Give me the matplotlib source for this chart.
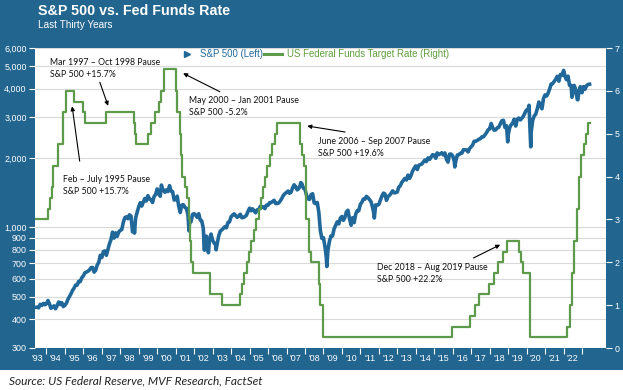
import numpy as np
import pandas as pd
import matplotlib
matplotlib.use('Agg')
import matplotlib.pyplot as plt
from matplotlib.lines import Line2D
from matplotlib.ticker import FixedLocator, FuncFormatter, NullLocator

plt.rcParams['font.family'] = ['Liberation Sans', 'DejaVu Sans']

# S&P 500 month-end levels, May 1993 - May 2023
sp_1990s = [450, 451, 448, 464, 459, 468, 462, 466,
            482, 467, 446, 451, 457, 444, 458, 475, 463, 472, 454, 459,
            470, 487, 501, 515, 533, 545, 562, 562, 584, 582, 605, 616,
            636, 640, 646, 654, 669, 671, 640, 652, 687, 705, 757, 741,
            786, 791, 757, 801, 848, 885, 954, 899, 947, 915, 955, 970,
            980, 1049, 1102, 1112, 1091, 1134, 1121, 957, 1017, 1099, 1164, 1229,
            1280, 1238, 1286, 1335, 1302, 1373, 1329, 1320, 1283, 1363, 1389, 1469]
sp_2000s = [1394, 1366, 1499, 1452, 1421, 1455, 1431, 1518, 1437, 1429, 1315, 1320,
            1366, 1240, 1160, 1249, 1256, 1224, 1211, 1134, 1041, 1060, 1139, 1148,
            1130, 1107, 1147, 1077, 1067, 990, 912, 916, 815, 886, 936, 880,
            856, 841, 848, 917, 964, 975, 990, 1008, 996, 1051, 1058, 1112,
            1131, 1145, 1126, 1107, 1121, 1141, 1102, 1104, 1115, 1130, 1174, 1212,
            1181, 1204, 1181, 1157, 1192, 1191, 1234, 1220, 1229, 1207, 1249, 1248,
            1280, 1281, 1295, 1311, 1270, 1270, 1277, 1304, 1336, 1378, 1401, 1418,
            1438, 1407, 1421, 1482, 1531, 1503, 1455, 1474, 1527, 1549, 1481, 1468,
            1379, 1331, 1323, 1386, 1400, 1280, 1267, 1283, 1166, 969, 896, 903,
            826, 735, 798, 873, 919, 919, 987, 1021, 1057, 1036, 1096, 1115]
sp_2010s = [1074, 1104, 1169, 1187, 1089, 1031, 1102, 1049, 1141, 1183, 1181, 1258,
            1286, 1327, 1326, 1364, 1345, 1321, 1292, 1219, 1131, 1253, 1247, 1258,
            1312, 1366, 1408, 1398, 1310, 1362, 1379, 1407, 1441, 1412, 1416, 1426,
            1498, 1515, 1569, 1598, 1631, 1606, 1686, 1633, 1682, 1757, 1806, 1848,
            1783, 1859, 1872, 1884, 1924, 1960, 1931, 2003, 1972, 2018, 2068, 2059,
            1995, 2105, 2068, 2086, 2107, 2063, 2104, 1972, 1920, 2079, 2080, 2044,
            1940, 1932, 2060, 2065, 2097, 2099, 2174, 2171, 2168, 2126, 2199, 2239,
            2279, 2364, 2363, 2384, 2412, 2423, 2470, 2472, 2519, 2575, 2648, 2674,
            2824, 2714, 2641, 2648, 2705, 2718, 2816, 2902, 2914, 2712, 2760, 2507,
            2704, 2784, 2834, 2946, 2752, 2942, 2980, 2926, 2977, 3038, 3141, 3231]
sp_2020s = [3226, 2954, 2585, 2912, 3044, 3100, 3271, 3500, 3363, 3270, 3622, 3756,
            3714, 3811, 3973, 4181, 4204, 4298, 4395, 4523, 4308, 4605, 4567, 4766,
            4516, 4374, 4530, 4132, 4132, 3785, 4130, 3955, 3586, 3872, 4080, 3840,
            4077, 3970, 4109, 4169, 4180]
sp_start = '1993-05-31'

# intra-month highs / lows visible on the chart
sp_extra_dates = ['1998-10-08', '2000-03-24', '2001-09-21', '2002-07-23', '2002-10-09',
                  '2003-03-11', '2007-10-09', '2009-03-09', '2010-07-02', '2011-10-03',
                  '2016-02-11', '2018-12-24', '2020-02-19', '2020-03-23', '2022-01-03',
                  '2022-06-16', '2022-10-12']
sp_extra_vals = [945, 1527, 966, 797, 777, 800, 1565, 677, 1022, 1099,
                 1829, 2351, 3386, 2237, 4797, 3667, 3577]

# Fed funds target rate (upper bound), change dates
fed_dates = ['1993-01-01', '1994-02-04', '1994-03-22', '1994-04-18', '1994-05-17', '1994-08-16',
             '1994-11-15', '1995-02-01', '1995-07-06', '1995-12-19', '1996-01-31', '1997-03-25',
             '1998-09-29', '1998-10-15', '1998-11-17', '1999-06-30', '1999-08-24', '1999-11-16',
             '2000-02-02', '2000-03-21', '2000-05-16', '2001-01-03', '2001-01-31', '2001-03-20',
             '2001-04-18', '2001-05-15', '2001-06-27', '2001-08-21', '2001-09-17', '2001-10-02',
             '2001-11-06', '2001-12-11', '2002-11-06', '2003-06-25', '2004-06-30', '2004-08-10',
             '2004-09-21', '2004-11-10', '2004-12-14', '2005-02-02', '2005-03-22', '2005-05-03',
             '2005-06-30', '2005-08-09', '2005-09-20', '2005-11-01', '2005-12-13', '2006-01-31',
             '2006-03-28', '2006-05-10', '2006-06-29', '2007-09-18', '2007-10-31', '2007-12-11',
             '2008-01-22', '2008-01-30', '2008-03-18', '2008-04-30', '2008-10-08', '2008-10-29',
             '2008-12-16', '2015-12-16', '2016-12-14', '2017-03-15', '2017-06-14', '2017-12-13',
             '2018-03-21', '2018-06-13', '2018-09-26', '2018-12-19', '2019-07-31', '2019-09-18',
             '2019-10-30', '2020-03-03', '2020-03-15', '2022-03-16', '2022-05-04', '2022-06-15',
             '2022-07-27', '2022-09-21', '2022-11-02', '2022-12-14', '2023-02-01', '2023-03-22',
             '2023-05-03', '2023-05-31']
fed_rates = [3.00, 3.25, 3.50, 3.75, 4.25, 4.75,
             5.50, 6.00, 5.75, 5.50, 5.25, 5.50,
             5.25, 5.00, 4.75, 5.00, 5.25, 5.50,
             5.75, 6.00, 6.50, 6.00, 5.50, 5.00,
             4.50, 4.00, 3.75, 3.50, 3.00, 2.50,
             2.00, 1.75, 1.25, 1.00, 1.25, 1.50,
             1.75, 2.00, 2.25, 2.50, 2.75, 3.00,
             3.25, 3.50, 3.75, 4.00, 4.25, 4.50,
             4.75, 5.00, 5.25, 4.75, 4.50, 4.25,
             3.50, 3.00, 2.25, 2.00, 1.50, 1.00,
             0.25, 0.50, 0.75, 1.00, 1.25, 1.50,
             1.75, 2.00, 2.25, 2.50, 2.25, 2.00,
             1.75, 1.25, 0.25, 0.50, 1.00, 1.75,
             2.50, 3.25, 4.00, 4.50, 4.75, 5.00,
             5.25, 5.25]

left_ticks = [300, 400, 500, 600, 700, 800, 900, 1000, 2000, 3000, 4000, 5000, 6000]
right_ticks = [0, 1, 2, 3, 4, 5, 6, 7]
years = np.arange(1993, 2023)
year_labels = ["'" + str(y)[2:] for y in years]

FRAME = '#22658f'
BLUE = '#21689a'
GREEN = '#5d9b4b'


def dec_year(dates):
    d = pd.to_datetime(pd.Series(dates))
    return (d.dt.year + (d.dt.dayofyear - 1) / 365.25).to_numpy()


sp_vals = sp_1990s + sp_2000s + sp_2010s + sp_2020s
sp = pd.Series(sp_vals, index=pd.date_range(sp_start, periods=len(sp_vals), freq='ME'))
extra = pd.Series(sp_extra_vals, index=pd.to_datetime(sp_extra_dates))
sp = pd.concat([sp, extra]).sort_index()

fig = plt.figure(figsize=(6.23, 3.9), dpi=100)
fig.patch.set_facecolor('white')

# blue frame behind everything
bg = fig.add_axes([0, 20 / 390, 1, 370 / 390], zorder=-5)
bg.set_facecolor(FRAME)
bg.set_xticks([])
bg.set_yticks([])
for s in bg.spines.values():
    s.set_visible(False)

ax = fig.add_axes([35 / 623, 42 / 390, 571 / 623, 300 / 390])
ax.set_facecolor('white')
ax.set_yscale('log')
ax.set_ylim(300, 6000)
ax.set_xlim(1993.38, 2024.3)
ax.yaxis.set_major_locator(FixedLocator(left_ticks))
ax.yaxis.set_minor_locator(NullLocator())
ax.yaxis.set_major_formatter(FuncFormatter(lambda v, p: f'{v:,.0f}'))
ax.grid(axis='y', color='#d9d9d9', lw=0.8)
ax.set_axisbelow(True)

ax.set_xticks(np.arange(1994, 2024))
ax.set_xticklabels([])
ax.set_xticks(years + 0.5, minor=True)
ax.set_xticklabels(year_labels, minor=True)
ax.tick_params(axis='x', which='major', length=4, color='white', width=0.8)
ax.tick_params(axis='x', which='minor', length=0, labelsize=6.4, labelcolor='white', pad=4)
ax.tick_params(axis='y', length=4, color='white', width=0.8, labelsize=6.4,
               labelcolor='white', pad=2)
for s in ax.spines.values():
    s.set_visible(False)

ax.plot(dec_year(sp.index), sp.values, color=BLUE, lw=2.6, solid_joinstyle='round')

ax2 = ax.twinx()
ax2.set_ylim(0, 7)
ax2.set_yticks(right_ticks)
ax2.tick_params(axis='y', length=4, color='white', width=0.8, labelsize=6.4,
                labelcolor='white', pad=2)
for s in ax2.spines.values():
    s.set_visible(False)
ax2.plot(dec_year(fed_dates), fed_rates, drawstyle='steps-post', color=GREEN, lw=1.6)

# pause annotations
note_font = dict(fontsize=6.3, family=['Lato', 'DejaVu Sans'], va='center', ha='left',
                 linespacing=1.35, color='#111111')
arrow = dict(arrowstyle='-|>', color='black', lw=0.8, mutation_scale=6, shrinkA=0, shrinkB=0)
notes = [
    ('Mar 1997 – Oct 1998 Pause\nS&P 500 +15.7%', (1994.18, 6.52), (1997.34, 5.65), (1996.89, 6.20)),
    ('May 2000 – Jan 2001 Pause\nS&P 500 -5.2%', (2001.73, 5.64), (2001.40, 6.41), (2003.39, 5.98)),
    ('Feb – July 1995 Pause\nS&P 500 +15.7%', (1994.87, 3.79), (1995.39, 5.64), (1995.80, 4.36)),
    ('June 2006 – Sep 2007 Pause\nS&P 500 +19.6%', (2008.72, 4.68), (2008.12, 5.18), (2010.17, 5.04)),
    ('Dec 2018 – Aug 2019 Pause\nS&P 500 +22.2%', (2011.89, 1.74), (2018.57, 2.41), (2017.12, 2.10)),
]
for txt, pos, tip, start in notes:
    ax2.text(pos[0], pos[1], txt, **note_font)
    ax2.annotate('', xy=tip, xytext=start, arrowprops=arrow)

# legend
handles = [Line2D([], [], color=BLUE, lw=0, marker='>', ms=4),
           Line2D([], [], color=GREEN, lw=2.2)]
leg = ax.legend(handles, ['S&P 500 (Left)', 'US Federal Funds Target Rate (Right)'],
                loc='upper left', bbox_to_anchor=((178 - 35) / 571, 1 - 1 / 300),
                ncol=2, frameon=False, fontsize=6.9, handlelength=1.8,
                handletextpad=0.5, columnspacing=0.15, borderpad=0, borderaxespad=0)
leg.get_texts()[0].set_color(BLUE)
leg.get_texts()[1].set_color('#5f9e3c')

fig.text(38 / 623, 1 - 11 / 390, 'S&P 500 vs. Fed Funds Rate', fontsize=10.3,
         fontweight='bold', color='white', va='center')
fig.text(38 / 623, 1 - 25.5 / 390, 'Last Thirty Years', fontsize=7.2, color='white', va='center')
fig.text(9 / 623, 1 - 381 / 390, 'Source: US Federal Reserve, MVF Research, FactSet',
         fontsize=8.6, style='italic', family=['Lato', 'DejaVu Sans'], color='#222222', va='center')

fig.savefig('out.png', dpi=100)
